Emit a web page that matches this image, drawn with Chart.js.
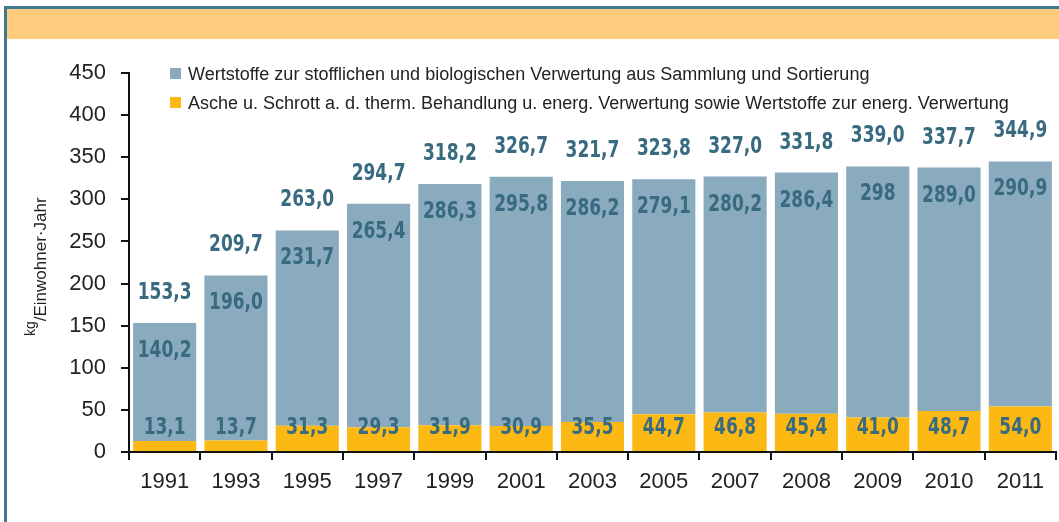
<!DOCTYPE html>
<html>
<head>
<meta charset="utf-8">
<script src="https://cdn.jsdelivr.net/npm/chart.js@4.4.1/dist/chart.umd.min.js"></script>
<style>
html,body{margin:0;padding:0;background:#fff;}
canvas{display:block;}
</style>
</head>
<body>
<canvas id="c" width="1059" height="522"></canvas>
<script>
const years = ['1991','1993','1995','1997','1999','2001','2003','2005','2007','2008','2009','2010','2011'];
const grayValues = [140.2,196.0,231.7,265.4,286.3,295.8,286.2,279.1,280.2,286.4,298,289.0,290.9];
const orangeValues = [13.1,13.7,31.3,29.3,31.9,30.9,35.5,44.7,46.8,45.4,41.0,48.7,54.0];
const grayLabels = ['140,2','196,0','231,7','265,4','286,3','295,8','286,2','279,1','280,2','286,4','298','289,0','290,9'];
const orangeLabels = ['13,1','13,7','31,3','29,3','31,9','30,9','35,5','44,7','46,8','45,4','41,0','48,7','54,0'];
const totalLabels = ['153,3','209,7','263,0','294,7','318,2','326,7','321,7','323,8','327,0','331,8','339,0','337,7','344,9'];
const yTicks = [0,50,100,150,200,250,300,350,400,450];
const grayName = 'Wertstoffe zur stofflichen und biologischen Verwertung aus Sammlung und Sortierung';
const orangeName = 'Asche u. Schrott a. d. therm. Behandlung u. energ. Verwertung sowie Wertstoffe zur energ. Verwertung';

const GRAY = '#8aaabd';
const ORANGE = '#fdb913';
const LABEL = '#386a80';
const LABEL_FONT = 'bold 23px "DejaVu Sans", sans-serif';
const TEXT_FONT = '"Liberation Sans", Arial, sans-serif';

function squeezedText(ctx, text, x, y, sx) {
  ctx.save();
  ctx.translate(x, y);
  ctx.scale(sx, 1);
  ctx.fillText(text, 0, 0);
  ctx.restore();
}

const framePlugin = {
  id: 'frame',
  beforeDraw(chart) {
    const ctx = chart.ctx;
    ctx.save();
    ctx.fillStyle = '#ffffff';
    ctx.fillRect(0, 0, chart.width, chart.height);
    ctx.fillStyle = '#ffcc7e';
    ctx.fillRect(7, 9, chart.width - 7, 30);
    ctx.fillStyle = '#3e7a8f';
    ctx.fillRect(4, 6, 3, chart.height - 6);
    ctx.fillRect(4, 6, chart.width - 4, 3);
    ctx.restore();
  },
  afterDraw(chart) {
    const ctx = chart.ctx;
    ctx.save();
    // legend
    const items = [[GRAY, grayName, 74], [ORANGE, orangeName, 103]];
    ctx.font = '18px ' + TEXT_FONT;
    ctx.textBaseline = 'middle';
    ctx.textAlign = 'left';
    items.forEach(([col, name, y]) => {
      ctx.fillStyle = col;
      ctx.fillRect(170, y - 6, 11, 11);
      ctx.fillStyle = '#222';
      ctx.fillText(name, 188, y + 1);
    });
    // y axis title, rotated
    ctx.translate(46, 336);
    ctx.rotate(-Math.PI / 2);
    ctx.fillStyle = '#222';
    ctx.textBaseline = 'alphabetic';
    ctx.font = '14px ' + TEXT_FONT;
    ctx.fillText('kg', 0, -11);
    const w = ctx.measureText('kg').width;
    ctx.font = '17px ' + TEXT_FONT;
    ctx.fillText('/Einwohner\u00b7Jahr', w, 0);
    ctx.restore();
  },
  afterDatasetsDraw(chart) {
    const ctx = chart.ctx;
    const yScale = chart.scales.y;
    const gMeta = chart.getDatasetMeta(1);
    ctx.save();
    ctx.font = LABEL_FONT;
    ctx.fillStyle = LABEL;
    ctx.textAlign = 'center';
    ctx.textBaseline = 'middle';
    gMeta.data.forEach((bar, i) => {
      const x = bar.x;
      const top = bar.y;
      squeezedText(ctx, totalLabels[i], x, top - 30, 0.74);
      squeezedText(ctx, grayLabels[i], x, top + 28, 0.74);
      squeezedText(ctx, orangeLabels[i], x, yScale.getPixelForValue(0) - 24, 0.74);
    });
    ctx.restore();
  }
};

new Chart(document.getElementById('c'), {
  type: 'bar',
  data: {
    labels: years,
    datasets: [
      { label: orangeName, data: orangeValues, backgroundColor: ORANGE, barPercentage: 0.885, categoryPercentage: 1 },
      { label: grayName, data: grayValues, backgroundColor: GRAY, barPercentage: 0.885, categoryPercentage: 1 }
    ]
  },
  options: {
    responsive: false,
    animation: false,
    devicePixelRatio: 1,
    layout: { padding: { top: 73, right: 3, left: 0, bottom: 0 } },
    plugins: { legend: { display: false }, tooltip: { enabled: false } },
    scales: {
      x: {
        stacked: true,
        offset: true,
        border: { display: true, color: '#111', width: 2 },
        grid: { display: true, drawOnChartArea: false, drawTicks: true, tickLength: 8, color: '#111', lineWidth: 2, offset: true },
        ticks: { color: '#222', font: { family: TEXT_FONT, size: 22 }, padding: 9, maxRotation: 0, autoSkip: false },
        afterFit(scale) { scale.height = 70; }
      },
      y: {
        stacked: true,
        min: 0, max: 450,
        afterBuildTicks(scale) { scale.ticks = yTicks.map(v => ({ value: v })); },
        border: { display: true, color: '#111', width: 2 },
        grid: { display: true, drawOnChartArea: false, drawTicks: true, tickLength: 8, color: '#111', lineWidth: 2 },
        ticks: { color: '#222', font: { family: TEXT_FONT, size: 22 }, padding: 15 },
        afterFit(scale) { scale.width = 129; }
      }
    }
  },
  plugins: [framePlugin]
});
</script>
</body>
</html>
